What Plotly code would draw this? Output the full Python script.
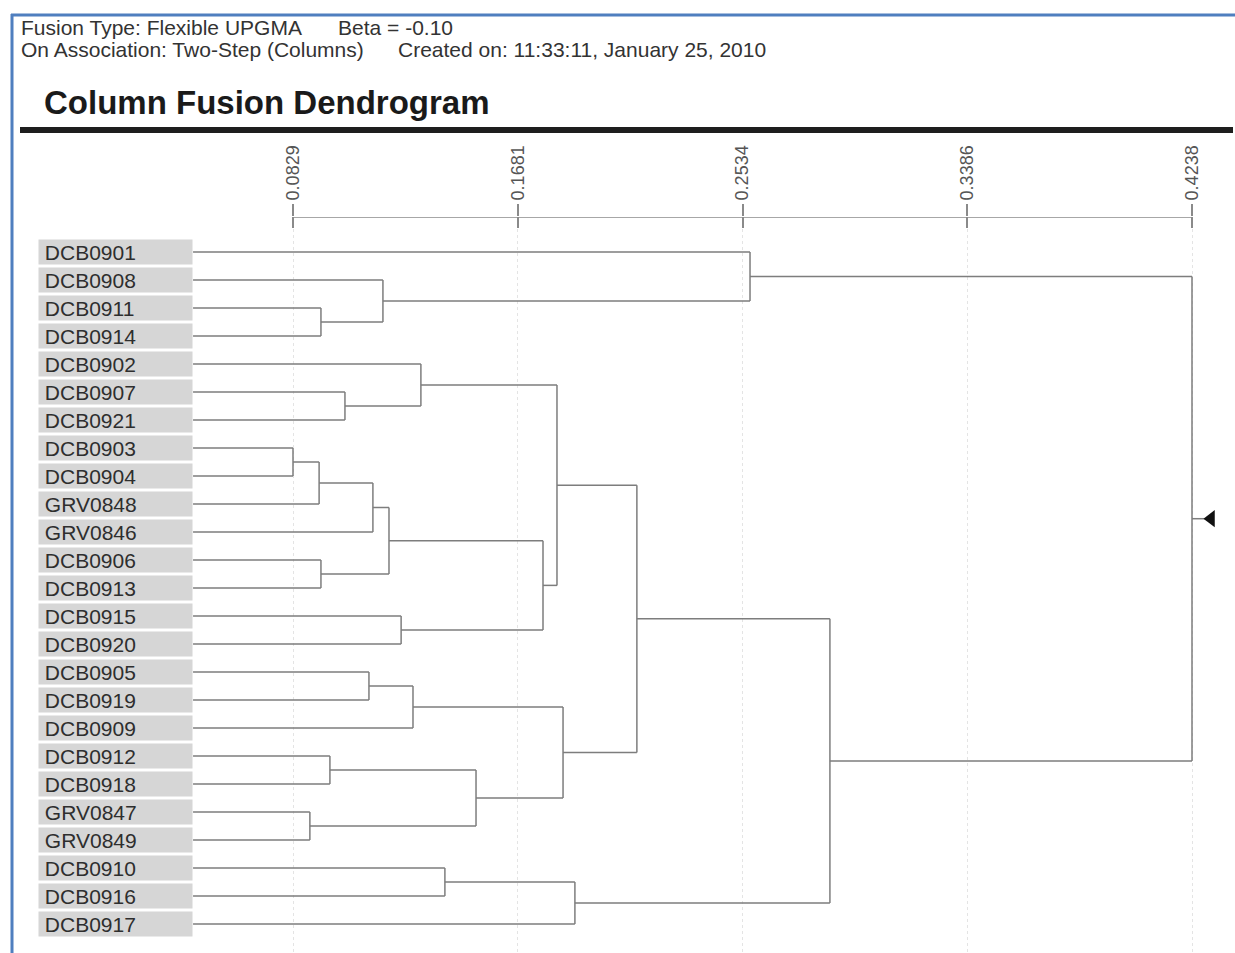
import plotly.graph_objects as go

# ---------------- data ----------------
leaves = ["DCB0901", "DCB0908", "DCB0911", "DCB0914", "DCB0902", "DCB0907", "DCB0921",
          "DCB0903", "DCB0904", "GRV0848", "GRV0846", "DCB0906", "DCB0913", "DCB0915",
          "DCB0920", "DCB0905", "DCB0919", "DCB0909", "DCB0912", "DCB0918", "GRV0847",
          "GRV0849", "DCB0910", "DCB0916", "DCB0917"]

# merges: node ids < 25 are leaves, merge k creates node 25 + k
merge_left = [2, 1, 0, 5, 4, 7, 30, 31, 11, 32, 13, 34, 29, 15, 38, 18, 20, 40, 39, 37, 22, 45, 44, 27]
merge_right = [3, 25, 26, 6, 28, 8, 9, 10, 12, 33, 14, 35, 36, 16, 17, 19, 21, 41, 42, 43, 23, 24, 46, 47]
merge_height = [0.0935, 0.1170, 0.2562, 0.1026, 0.1314, 0.0829, 0.0928, 0.1132, 0.0935, 0.1193,
                0.1239, 0.1777, 0.1830, 0.1117, 0.1284, 0.0969, 0.0893, 0.1523, 0.1853, 0.2133,
                0.1405, 0.1898, 0.2865, 0.4238]
leaf_level = 0.0450

tick_values = [0.0829, 0.1681, 0.2534, 0.3386, 0.4238]
tick_labels = ["0.0829", "0.1681", "0.2534", "0.3386", "0.4238"]

header_line1 = ["Fusion Type: Flexible UPGMA", "Beta = -0.10"]
header_line2 = ["On Association: Two-Step (Columns)", "Created on: 11:33:11, January 25, 2010"]
title_text = "Column Fusion Dendrogram"

# ---------------- geometry ----------------
W, H = 1235, 953
TOP = 217
n = len(leaves)
pos = {i: float(i) for i in range(n)}
hgt = {i: leaf_level for i in range(n)}

xs, ys = [], []
for k, (a, b, h) in enumerate(zip(merge_left, merge_right, merge_height)):
    node = n + k
    for c in (a, b):
        xs += [hgt[c], h, None]
        ys += [pos[c], pos[c], None]
    xs += [h, h, None]
    ys += [pos[a], pos[b], None]
    pos[node] = (pos[a] + pos[b]) / 2
    hgt[node] = h

root = n + len(merge_height) - 1
marker_offset = 0.0072  # style gap between root and the pointer
xs += [hgt[root], hgt[root] + marker_offset, None]
ys += [pos[root], pos[root], None]

LINE = "#7d7d7d"
fig = go.Figure()
fig.add_trace(go.Scatter(x=xs, y=ys, mode="lines", line=dict(color=LINE, width=1.5),
                         hoverinfo="skip", showlegend=False))
fig.add_trace(go.Scatter(x=[hgt[root] + marker_offset], y=[pos[root]], mode="markers",
                         marker=dict(symbol="triangle-left", size=15, color="#111111"),
                         hoverinfo="skip", showlegend=False))

# x mapping: 0.0829 at px 293, 0.4238 at px 1192
scale = (1192 - 293) / (tick_values[-1] - tick_values[0])
x0 = tick_values[0] - 293 / scale
x1 = tick_values[0] + (W - 293) / scale
rows_visible = (H - TOP) / 28.0
ytop = -(252 - TOP) / 28.0
yrange = [ytop + rows_visible, ytop]

FONT = "Liberation Sans, Arial, sans-serif"

# label boxes
for i, name in enumerate(leaves):
    fig.add_annotation(x=leaf_level, y=pos[i], xref="x", yref="y", text="\u00a0" + name,
                       showarrow=False, xanchor="right", yanchor="middle", align="left",
                       width=153, height=24, bgcolor="#d6d6d6", borderpad=0,
                       font=dict(family=FONT, size=21, color="#2e2e2e"))

def px(xp):
    return xp / W

def py(yp):
    return (H - yp) / (H - TOP)

hdr_font = dict(family=FONT, size=21, color="#333333")
for txt, xp in zip(header_line1, [19, 336]):
    fig.add_annotation(x=px(xp), y=py(27), xref="paper", yref="paper", text=txt, showarrow=False,
                       xanchor="left", yanchor="middle", font=hdr_font)
for txt, xp in zip(header_line2, [19, 396]):
    fig.add_annotation(x=px(xp), y=py(49), xref="paper", yref="paper", text=txt, showarrow=False,
                       xanchor="left", yanchor="middle", font=hdr_font)
fig.add_annotation(x=px(42), y=py(103), xref="paper", yref="paper", text="<b>" + title_text + "</b>",
                   showarrow=False, xanchor="left", yanchor="middle",
                   font=dict(family=FONT, size=33, color="#1a1a1a"))

# rule + frame
fig.add_shape(type="line", xref="paper", yref="paper", x0=px(20), x1=px(1233), y0=py(130), y1=py(130),
              line=dict(color="#1e1e1e", width=6))
fig.add_shape(type="line", xref="paper", yref="paper", x0=px(11), x1=px(W), y0=py(15), y1=py(15),
              line=dict(color="#4f7fbf", width=3))
fig.add_shape(type="line", xref="paper", yref="paper", x0=px(12), x1=px(12), y0=py(14), y1=py(H),
              line=dict(color="#4f7fbf", width=3))

fig.update_layout(
    width=W, height=H,
    margin=dict(l=0, r=0, t=TOP, b=0),
    paper_bgcolor="white", plot_bgcolor="white",
    xaxis=dict(range=[x0, x1], side="top", tickvals=tick_values, ticktext=tick_labels,
               tickangle=-90, ticks="outside", ticklen=12, tickcolor="#8a8a8a", tickwidth=1.5,
               showline=False, showgrid=True, gridcolor="#e4e4e4", griddash="dot", gridwidth=1,
               zeroline=False, tickfont=dict(family=FONT, size=18, color="#555555"),
               fixedrange=True),
    xaxis2=dict(range=[x0, x1], overlaying="x", matches="x", side="top", tickvals=tick_values,
                ticks="inside", ticklen=11, tickcolor="#8a8a8a", tickwidth=1.5,
                showticklabels=False, showgrid=False, zeroline=False, showline=False),
    yaxis=dict(range=yrange, visible=False, fixedrange=True),
)
# axis baseline spanning the tick range
fig.add_trace(go.Scatter(x=[tick_values[0], tick_values[-1]], y=[ytop, ytop], xaxis="x2",
                         mode="lines", line=dict(color="#8a8a8a", width=1.5),
                         hoverinfo="skip", showlegend=False, cliponaxis=False))

fig.write_html("out.html", config={"displayModeBar": False},
               post_script="document.body.style.margin='0';")
